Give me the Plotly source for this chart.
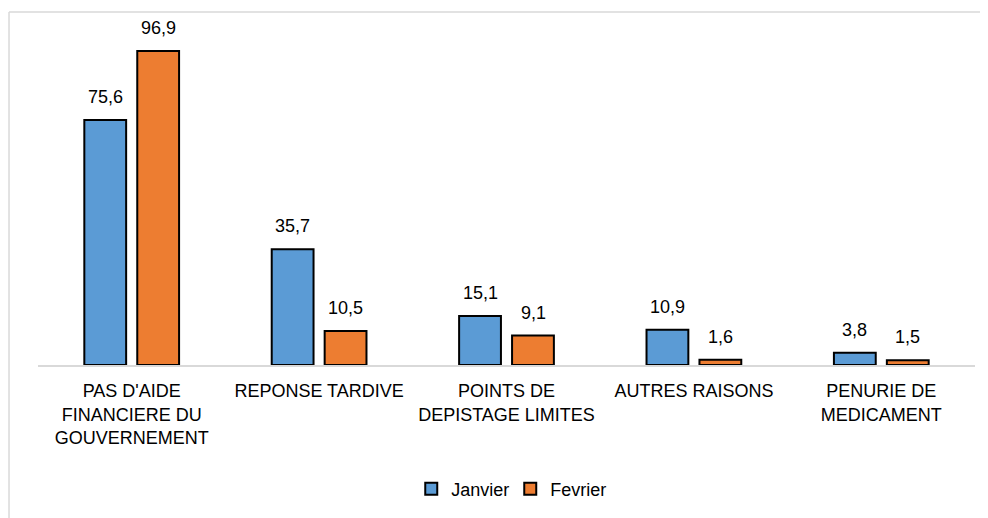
import plotly.graph_objects as go

categories = ["PAS D'AIDE<br>FINANCIERE DU<br>GOUVERNEMENT", "REPONSE TARDIVE",
              "POINTS DE<br>DEPISTAGE LIMITES", "AUTRES RAISONS", "PENURIE DE<br>MEDICAMENT"]
janvier = [75.6, 35.7, 15.1, 10.9, 3.8]
fevrier = [96.9, 10.5, 9.1, 1.6, 1.5]

police = "Liberation Sans, Arial"

fig = go.Figure()
fig.add_trace(go.Bar(x=categories, y=janvier, name="Janvier",
                     marker=dict(color="#5B9BD5", line=dict(color="black", width=2))))
fig.add_trace(go.Bar(x=categories, y=fevrier, name="Fevrier",
                     marker=dict(color="#ED7D31", line=dict(color="black", width=2))))

# etiquettes de valeurs au-dessus des barres
for serie, decal in ((janvier, -26.5), (fevrier, 26.5)):
    for cat, v in zip(categories, serie):
        fig.add_annotation(x=cat, y=v, text=f"{v:.1f}".replace(".", ","),
                           showarrow=False, yanchor="bottom", xshift=decal, yshift=11,
                           font=dict(size=18, color="black", family=police))

# cadre gris du graphique (haut et gauche)
largeur = 937.5
haut = 353 / 324
gauche = -29 / largeur
fig.add_shape(type="line", xref="paper", yref="paper", x0=gauche, x1=1.1, y0=haut, y1=haut,
              line=dict(color="#d9d9d9", width=1.5))
fig.add_shape(type="line", xref="paper", yref="paper", x0=gauche, x1=gauche, y0=-1, y1=haut,
              line=dict(color="#d9d9d9", width=1.5))

fig.update_layout(
    width=988, height=518,
    margin=dict(l=30, r=988 - 30 - largeur, t=33, b=161),
    plot_bgcolor="white", paper_bgcolor="white",
    barmode="group", bargap=0.435, bargroupgap=0.21,
    font=dict(family=police, size=18, color="black"),
    showlegend=True,
    legend=dict(orientation="h", x=0.504, xanchor="center", y=-0.383, yanchor="middle",
                font=dict(size=18), itemwidth=30, entrywidth=54, tracegroupgap=0),
    xaxis=dict(showline=True, linecolor="#d9d9d9", linewidth=1.5, ticks="", ticklabelstandoff=9,
               tickfont=dict(size=18)),
    yaxis=dict(range=[0, 100], visible=False),
)

fig.write_html("out.html")
